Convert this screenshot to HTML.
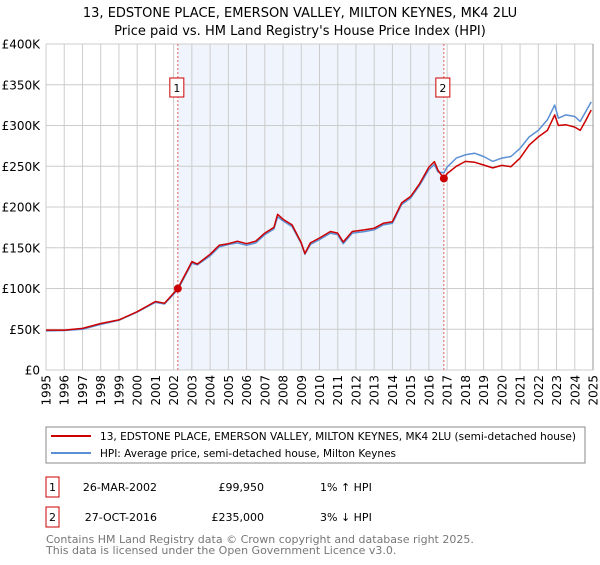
<!DOCTYPE html>
<html><head><meta charset="utf-8"><style>
body{margin:0;background:#fff;font-family:"Liberation Sans","DejaVu Sans",sans-serif;}
svg text{font-family:"DejaVu Sans","Liberation Sans",sans-serif;}
</style></head><body>
<svg width="600" height="560" viewBox="0 0 600 560" xmlns="http://www.w3.org/2000/svg">
<g id="plot"></g>
<text x="300" y="17" text-anchor="middle" font-size="13">13, EDSTONE PLACE, EMERSON VALLEY, MILTON KEYNES, MK4 2LU</text>
<text x="300" y="35" text-anchor="middle" font-size="13">Price paid vs. HM Land Registry's House Price Index (HPI)</text>
<g>
<rect x="46" y="427" width="539" height="36" fill="#fff" stroke="#888" stroke-width="1"/>
<line x1="51" y1="436" x2="91" y2="436" stroke="#cc0000" stroke-width="2"/>
<text x="100" y="440" font-size="11" textLength="476" lengthAdjust="spacingAndGlyphs">13, EDSTONE PLACE, EMERSON VALLEY, MILTON KEYNES, MK4 2LU (semi-detached house)</text>
<line x1="51" y1="453" x2="91" y2="453" stroke="#5b8fd4" stroke-width="2"/>
<text x="100" y="457" font-size="11" textLength="296" lengthAdjust="spacingAndGlyphs">HPI: Average price, semi-detached house, Milton Keynes</text>
</g>
<g font-size="11">
<rect x="46" y="477" width="13" height="20" fill="#fff" stroke="#cc0000"/>
<text x="52.5" y="491" text-anchor="middle">1</text>
<text x="157" y="491" text-anchor="end">26-MAR-2002</text>
<text x="264" y="491" text-anchor="end">£99,950</text>
<text x="320" y="491">1% ↑ HPI</text>
<rect x="46" y="507" width="13" height="20" fill="#fff" stroke="#cc0000"/>
<text x="52.5" y="521" text-anchor="middle">2</text>
<text x="157" y="521" text-anchor="end">27-OCT-2016</text>
<text x="264" y="521" text-anchor="end">£235,000</text>
<text x="320" y="521">3% ↓ HPI</text>
</g>
<text x="46" y="543" font-size="11" fill="#777">Contains HM Land Registry data © Crown copyright and database right 2025.</text>
<text x="46" y="554" font-size="11" fill="#777">This data is licensed under the Open Government Licence v3.0.</text>
</svg>
<script>
const yTicks=[0,50,100,150,200,250,300,350,400];
const yTickLabels=["£0","£50K","£100K","£150K","£200K","£250K","£300K","£350K","£400K"];
const xYears=[1995,1996,1997,1998,1999,2000,2001,2002,2003,2004,2005,2006,2007,2008,2009,2010,2011,2012,2013,2014,2015,2016,2017,2018,2019,2020,2021,2022,2023,2024,2025];
const seriesT=[1995,1996,1997,1998,1999,2000,2001,2001.5,2002.23,2003,2003.3,2004,2004.5,2005,2005.5,2006,2006.5,2007,2007.5,2007.7,2008,2008.5,2009,2009.2,2009.5,2010,2010.6,2011,2011.3,2011.8,2012.5,2013,2013.5,2014,2014.5,2015,2015.5,2016,2016.3,2016.5,2016.82,2017,2017.5,2018,2018.5,2019,2019.5,2020,2020.5,2021,2021.5,2022,2022.5,2022.9,2023.1,2023.5,2024,2024.3,2024.6,2024.9];
const hpiValues=[48,48.5,50,56,61,71,83,81,98.5,131,129,140,151,154,156,153,156,166,173,188,183,176,155,142,154,160,168,166,155,168,170,172,178,180,203,211,227,246,252,243,242,249,260,264,266,262,256,260,262,272,286,294,307,325,309,313,311,305,317,329];
const paidValues=[49,49,51,57,61.5,71.5,84,82,99.95,133,130,142,153,155,158,155,158,168,175,191,185,178,156,143,156,162,170,168,157,170,172,174,180,182,205,213,229,249,255.6,245,235,241,250,256,255,251.5,248,251,249.5,260,276,286,294,313,300,301,298,294,306,319];
const sales=[{t:2002.23,v:99.95,label:"1"},{t:2016.82,v:235,label:"2"}];
const NS="http://www.w3.org/2000/svg";
const X0=46,X1=593,Y0=370,Y1=44;
const xs=t=>X0+(t-1995)/(2025-1995)*(X1-X0);
const ys=v=>Y0-v/400*(Y0-Y1);
const g=document.getElementById('plot');
function mk(tag,attrs){const e=document.createElementNS(NS,tag);for(const k in attrs)e.setAttribute(k,attrs[k]);g.appendChild(e);return e;}
let shade=mk('rect',{x:xs(sales[0].t),y:Y1,width:xs(sales[1].t)-xs(sales[0].t),height:Y0-Y1,fill:'#f0f4fd'});


xYears.forEach(yr=>{
 const l=mk('line',{x1:xs(yr),x2:xs(yr),y1:Y1,y2:Y0,stroke:'#cccccc','stroke-width':1});
 
 
 const t=mk('text',{x:0,y:0,'font-size':12,'text-anchor':'end',transform:`translate(${xs(yr)+4.5},${Y0+5}) rotate(-90)`});
 t.textContent=yr;
 
 
});
yTicks.forEach((v,i)=>{
 const l=mk('line',{x1:X0,x2:X1,y1:ys(v),y2:ys(v),stroke:'#cccccc','stroke-width':1});
 
 
 const t=mk('text',{x:40,y:ys(v)+4.5,'font-size':12,'text-anchor':'end'});
 t.textContent=yTickLabels[i];
 
 
});
let edge=mk('line',{x1:X1,x2:X1,y1:Y1,y2:Y0,stroke:'#999','stroke-width':1});


sales.forEach(s=>{
 const l=mk('line',{x1:xs(s.t),x2:xs(s.t),y1:Y1,y2:Y0,stroke:'#e06060','stroke-width':1,'stroke-dasharray':'2,2'});
 
 
});
function path(vals,color,name){
 const d=seriesT.map((t,i)=>(i?'L':'M')+xs(t).toFixed(1)+','+ys(vals[i]).toFixed(1)).join('');
 const p=mk('path',{d:d,fill:'none',stroke:color,'stroke-width':1.5,'stroke-linejoin':'round'});
 
 
}
path(hpiValues,'#5b8fd4','hpi-line');
path(paidValues,'#cc0000','price-paid-line');
sales.forEach(s=>{
 const c=mk('circle',{cx:xs(s.t),cy:ys(s.v),r:4,fill:'#cc0000'});
 
 
 const r=mk('rect',{x:xs(s.t)-8,y:78,width:14,height:19,fill:'#fff',stroke:'#cc0000'});
 
 
 const t=mk('text',{x:xs(s.t)-1,y:92,'font-size':11,'text-anchor':'middle'});
 t.textContent=s.label;
 
 
});
</script>
</body></html>
